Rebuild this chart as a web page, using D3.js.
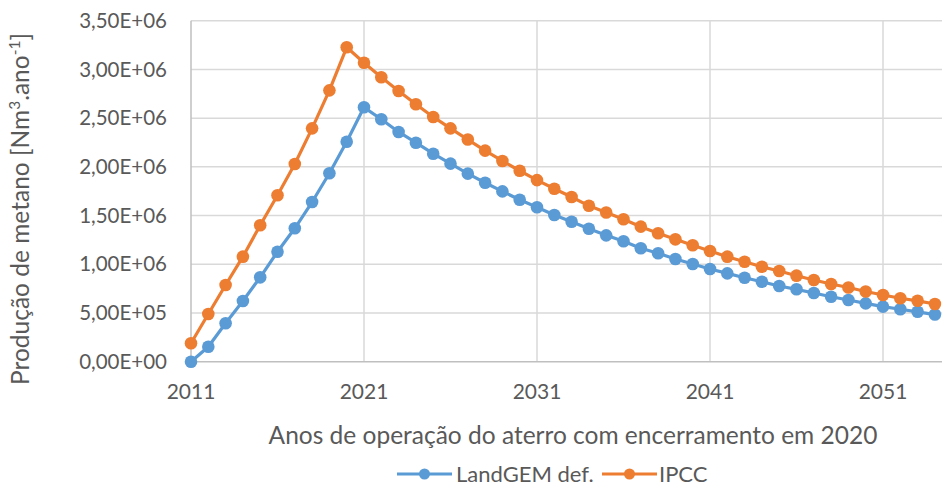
<!DOCTYPE html>
<html><head><meta charset="utf-8">
<script src="https://cdn.jsdelivr.net/npm/d3@7"></script>
<style>
html,body{margin:0;padding:0;background:#fff;}
svg{display:block;font-family:Lato,"Open Sans",sans-serif;}
</style></head>
<body>
<svg id="chart" width="942" height="486"></svg>
<script>
const years = d3.range(2011, 2055);
const landgem = [0, 154000, 394000, 623000, 866000, 1129000, 1369000, 1639000, 1934000, 2258000,
  2611000, 2488000, 2358000, 2248000, 2135000, 2033000, 1930000, 1837000, 1748000, 1662000,
  1585000, 1506000, 1437000, 1364000, 1297000, 1237000, 1164000, 1113000, 1054000, 1003000,
  951000, 907000, 862000, 821000, 777000, 743000, 705000, 667000, 633000, 599000,
  565000, 538000, 512000, 484000];
const ipcc = [189000, 490000, 787000, 1078000, 1400000, 1708000, 2029000, 2395000, 2785000, 3227000,
  3069000, 2919000, 2778000, 2642000, 2512000, 2395000, 2280000, 2166000, 2060000, 1960000,
  1864000, 1775000, 1690000, 1600000, 1531000, 1462000, 1386000, 1318000, 1256000, 1195000,
  1136000, 1078000, 1026000, 975000, 931000, 883000, 839000, 797000, 762000, 720000,
  685000, 651000, 625000, 592000];
const seriesNames = ["LandGEM def.", "IPCC"];
const colors = ["#5B9BD5", "#ED7D31"];
const yTicks = [0, 500000, 1000000, 1500000, 2000000, 2500000, 3000000, 3500000];
const xTicks = [2011, 2021, 2031, 2041, 2051];

const svg = d3.select("#chart");
const pLeft = 191, pTop = 20.7, pBottom = 361.7, pRight = 942;
const x = d3.scaleLinear().domain([2011, 2054.41]).range([pLeft, pRight]);
const y = d3.scaleLinear().domain([0, 3500000]).range([pBottom, pTop]);
const textColor = "#595959";

const fmt = v => {
  if (v === 0) return "0,00E+00";
  const e = Math.floor(Math.log10(v));
  const m = v / Math.pow(10, e);
  return m.toFixed(2).replace(".", ",") + "E+" + String(e).padStart(2, "0");
};

// horizontal gridlines
svg.append("g").selectAll("line").data(yTicks.slice(1)).join("line")
  .attr("x1", pLeft).attr("x2", pRight)
  .attr("y1", d => y(d)).attr("y2", d => y(d))
  .attr("stroke", "#D9D9D9").attr("stroke-width", 1.5);
// vertical gridlines
svg.append("g").selectAll("line").data(xTicks.slice(1)).join("line")
  .attr("x1", d => x(d)).attr("x2", d => x(d))
  .attr("y1", pTop).attr("y2", pBottom)
  .attr("stroke", "#D9D9D9").attr("stroke-width", 1.5);

// axes lines
svg.append("line").attr("x1", pLeft).attr("x2", pLeft).attr("y1", pTop).attr("y2", pBottom)
  .attr("stroke", "#BFBFBF").attr("stroke-width", 1.5);
svg.append("line").attr("x1", pLeft).attr("x2", pRight).attr("y1", pBottom).attr("y2", pBottom)
  .attr("stroke", "#BFBFBF").attr("stroke-width", 1.5);

// y tick labels
svg.append("g").selectAll("text").data(yTicks).join("text")
  .attr("x", 167).attr("y", d => y(d)).attr("dy", "0.35em")
  .attr("text-anchor", "end").attr("fill", textColor).attr("font-size", 20.5)
  .text(fmt);
// x tick labels
svg.append("g").selectAll("text").data(xTicks).join("text")
  .attr("x", d => x(d)).attr("y", 392).attr("dy", "0.35em")
  .attr("text-anchor", "middle").attr("fill", textColor).attr("font-size", 21)
  .text(d => d);

// axis titles
svg.append("text").attr("x", 573).attr("y", 435).attr("dy", "0.35em")
  .attr("text-anchor", "middle").attr("fill", textColor).attr("font-size", 24.5)
  .text("Anos de operação do aterro com encerramento em 2020");
const yt = svg.append("text").attr("transform", "translate(20,209) rotate(-90)")
  .attr("dy", "0.35em").attr("text-anchor", "middle").attr("fill", textColor).attr("font-size", 24.5);
yt.append("tspan").text("Produção de metano [Nm");
yt.append("tspan").attr("baseline-shift", "super").attr("font-size", 15.5).text("3");
yt.append("tspan").text(".ano");
yt.append("tspan").attr("baseline-shift", "super").attr("font-size", 15.5).text("-1");
yt.append("tspan").text("]");

// series
const allSeries = [landgem, ipcc];
const line = d3.line().x((d, i) => x(years[i])).y(d => y(d));
allSeries.forEach((vals, si) => {
  const g = svg.append("g");
  g.append("path").datum(vals).attr("d", line).attr("fill", "none")
    .attr("stroke", colors[si]).attr("stroke-width", 3.2).attr("stroke-linejoin", "round");
  g.selectAll("circle").data(vals).join("circle")
    .attr("cx", (d, i) => x(years[i])).attr("cy", d => y(d)).attr("r", 6.3)
    .attr("fill", colors[si]);
});

// legend
const legendItems = [{x0: 397, x1: 452, tx: 456}, {x0: 602, x1: 657, tx: 659}];
const lg = svg.append("g");
legendItems.forEach((it, i) => {
  lg.append("line").attr("x1", it.x0).attr("x2", it.x1).attr("y1", 474).attr("y2", 474)
    .attr("stroke", colors[i]).attr("stroke-width", 3.2);
  lg.append("circle").attr("cx", (it.x0 + it.x1) / 2).attr("cy", 474).attr("r", 5.5).attr("fill", colors[i]);
  lg.append("text").attr("x", it.tx).attr("y", 474).attr("dy", "0.35em")
    .attr("fill", textColor).attr("font-size", 22).text(seriesNames[i]);
});
</script>
</body></html>
